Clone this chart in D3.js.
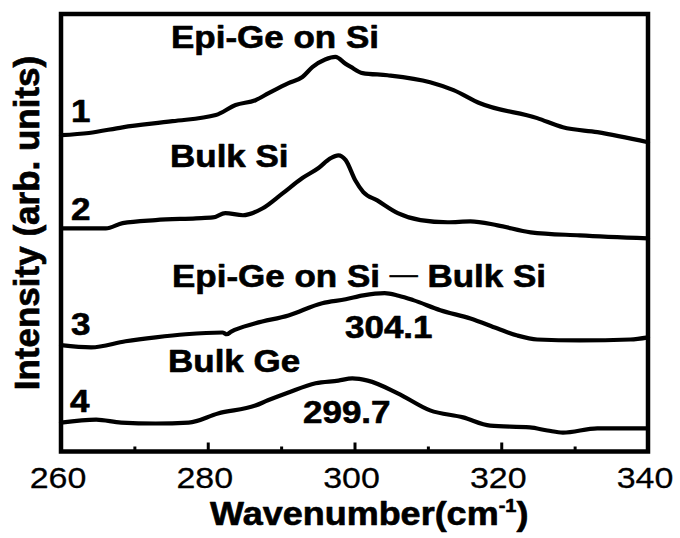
<!DOCTYPE html>
<html>
<head>
<meta charset="utf-8">
<script src="https://cdn.jsdelivr.net/npm/d3@7"></script>
<style>
  html, body { margin: 0; padding: 0; background: #fff; }
  svg { display: block; }
  text { font-family: "Liberation Sans", Arial, Helvetica, sans-serif; fill: #000; }
</style>
</head>
<body>
<svg id="chart" width="680" height="538"></svg>
<script>
// Raman spectra, wavenumber (cm^-1) vs. intensity (arb. units, stacked offsets)
const epiGeX   = [260, 263.8, 268.4, 275.2, 281.1, 283.8, 286.5, 288.3, 291.0, 292.9, 294.3, 296.0, 297.4, 298.8, 299.5, 301.1, 304.5, 310.3, 313.5, 317.1, 324.9, 328.4, 333.1, 340];
const epiGeY   = [72.3, 72.8, 74.1, 75.5, 76.9, 79.2, 80.3, 81.9, 84.2, 85.6, 87.9, 89.6, 90.2, 88.6, 87.9, 86.5, 86.0, 84.4, 82.6, 79.6, 76.2, 74.1, 73.0, 70.7];

const bulkSiX  = [260, 266.1, 268.4, 272.9, 278.4, 280.7, 282.4, 284.8, 287.5, 290.2, 292.9, 295.1, 296.7, 297.8, 298.8, 300.1, 301.2, 303.1, 305.9, 309.0, 312.7, 315.8, 319.5, 324.0, 330.7, 340];
const bulkSiY  = [51.0, 51.0, 52.2, 52.9, 53.3, 53.5, 54.5, 54.0, 55.6, 59.0, 62.5, 64.8, 67.0, 67.7, 66.6, 62.0, 59.3, 57.4, 54.5, 52.9, 52.4, 52.6, 51.7, 50.1, 49.4, 48.7];

const diffX    = [260, 264.1, 268.8, 272.9, 277.0, 282.0, 282.6, 283.2, 286.5, 291.0, 295.6, 298.8, 301.2, 304.1, 306.0, 308.0, 311.7, 315.8, 319.5, 322.2, 324.9, 330.7, 337.6, 340];
const diffY    = [24.3, 23.8, 25.2, 26.1, 26.8, 27.2, 26.8, 27.4, 29.3, 31.1, 33.9, 34.8, 35.7, 36.2, 35.6, 34.6, 32.3, 30.4, 28.1, 26.5, 25.6, 25.4, 25.6, 26.1];

const bulkGeX  = [260, 264.8, 268.2, 272.9, 277.4, 281.4, 286.5, 288.2, 291.0, 294.7, 297.8, 299.7, 301.8, 305.9, 310.3, 314.8, 318.5, 323.9, 326.3, 328.4, 333.1, 340];
const bulkGeY  = [6.6, 7.3, 6.6, 6.4, 6.6, 8.7, 10.5, 11.7, 13.5, 15.6, 16.2, 16.7, 16.2, 13.3, 9.4, 7.8, 5.9, 5.5, 4.8, 4.3, 5.3, 5.3];

const curveNames   = ["Epi-Ge on Si", "Bulk Si", "Epi-Ge on Si — Bulk Si", "Bulk Ge"];
const curveNumbers = ["1", "2", "3", "4"];
const peakLabels   = [304.1, 299.7];

const xTickLabels  = [260, 280, 300, 320, 340];
const xMajorTicks  = [280, 300, 320];
const xMinorTicks  = [270, 290, 310, 330];

const svg = d3.select("#chart");

const x = d3.scaleLinear().domain([260, 340]).range([61, 648]);
const y = d3.scaleLinear().domain([0, 100]).range([451.5, 14]);

const series = [
  { xs: epiGeX, ys: epiGeY },
  { xs: bulkSiX, ys: bulkSiY },
  { xs: diffX, ys: diffY },
  { xs: bulkGeX, ys: bulkGeY }
];

const line = d3.line()
  .x(d => x(d[0]))
  .y(d => y(d[1]))
  .curve(d3.curveMonotoneX);

const plot = svg.append("g");

// spectra
series.forEach(s => {
  plot.append("path")
    .datum(s.xs.map((v, i) => [v, s.ys[i]]))
    .attr("d", line)
    .attr("fill", "none")
    .attr("stroke", "#000")
    .attr("stroke-width", 4.2)
    .attr("stroke-linejoin", "round")
    .attr("stroke-linecap", "round");
});

// inward ticks on the bottom axis
const majorAxis = d3.axisBottom(x).tickValues(xMajorTicks).tickSize(-9).tickFormat("");
const minorAxis = d3.axisBottom(x).tickValues(xMinorTicks).tickSize(-5).tickFormat("");
[majorAxis, minorAxis].forEach(ax => {
  const g = svg.append("g").attr("transform", `translate(0,${y(0)})`).call(ax);
  g.select(".domain").remove();
  g.selectAll(".tick line").attr("stroke", "#000").attr("stroke-width", 3);
});

// frame
svg.append("rect")
  .attr("x", x(260)).attr("y", y(100))
  .attr("width", x(340) - x(260)).attr("height", y(0) - y(100))
  .attr("fill", "none").attr("stroke", "#000").attr("stroke-width", 4.5);

// helper: text placed at (px, py), slightly condensed vertically
function label(px, py, str, opts) {
  const o = Object.assign({ size: 35, weight: "bold", anchor: "start", sy: 0.88, heavy: 0.7 }, opts || {});
  const t = svg.append("text")
    .attr("transform", `translate(${px},${py}) scale(1,${o.sy})`)
    .attr("font-size", o.size)
    .attr("font-weight", o.weight)
    .attr("text-anchor", o.anchor)
    .text(str);
  if (o.heavy > 0) t.attr("stroke", "#000").attr("stroke-width", o.heavy).attr("stroke-linejoin", "round");
  return t;
}

// tick labels
xTickLabels.forEach(t => {
  label(x(t) - 3, 488, String(t), { size: 34, weight: "normal", anchor: "middle", sy: 0.85, heavy: 0.3 });
});

// curve names
label(171, 48, curveNames[0]);
label(170, 167, curveNames[1]);
{
  const t = label(172, 287, "");
  t.append("tspan").text("Epi-Ge on Si ");
  t.append("tspan").attr("font-weight", "normal").attr("font-size", 28).attr("dy", -6).text("—");
  t.append("tspan").attr("dy", 6).text(" Bulk Si");
}
label(168, 372, curveNames[3]);

// curve numbers
label(71, 122, curveNumbers[0]);
label(71, 220, curveNumbers[1]);
label(71, 335, curveNumbers[2]);
label(70, 412, curveNumbers[3]);

// peak positions
label(345, 338, peakLabels[0].toFixed(1));
label(303, 423, peakLabels[1].toFixed(1));

// x axis title
{
  const t = label(210, 525, "", { size: 36, sy: 0.9 });
  t.append("tspan").text("Wavenumber(cm");
  t.append("tspan").attr("font-size", 20).attr("dy", -15).text("-1");
  t.append("tspan").attr("dy", 15).text(")");
}

// y axis title
svg.append("text")
  .attr("transform", "translate(39,223) rotate(-90)")
  .attr("font-size", 35)
  .attr("font-weight", "bold")
  .attr("text-anchor", "middle")
  .attr("stroke", "#000")
  .attr("stroke-width", 0.7)
  .text("Intensity (arb. units)");
</script>
</body>
</html>
